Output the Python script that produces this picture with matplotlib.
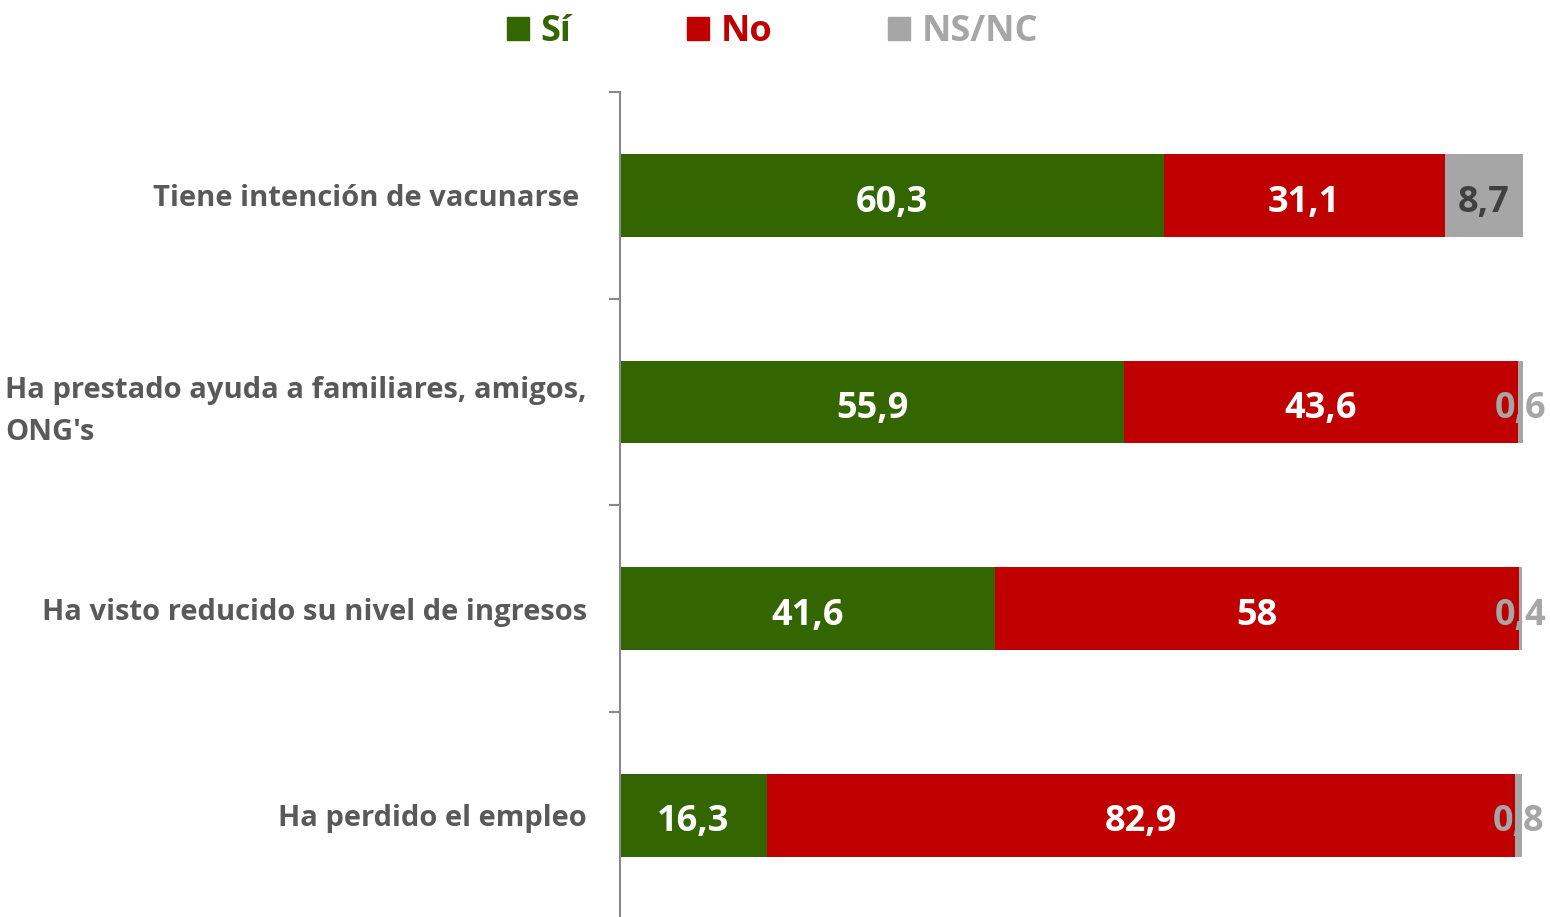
import matplotlib
matplotlib.use("Agg")
import matplotlib.pyplot as plt
from matplotlib.patches import Patch
import numpy as np

plt.rcParams['font.family'] = ['Open Sans', 'DejaVu Sans']
plt.rcParams['font.weight'] = 'bold'

categories = [
    "Tiene intención de vacunarse ",
    "Ha prestado ayuda a familiares, amigos,\nONG's",
    "Ha visto reducido su nivel de ingresos",
    "Ha perdido el empleo",
]
si = [60.3, 55.9, 41.6, 16.3]
no = [31.1, 43.6, 58.0, 82.9]
nsnc = [8.7, 0.6, 0.4, 0.8]

series = [("Sí", si, "#336600"), ("No", no, "#C00000"), ("NS/NC", nsnc, "#A6A6A6")]
label_colors = {"Sí": "white", "No": "white"}

fig = plt.figure(figsize=(15.5, 9.17), dpi=100)
ax = fig.add_axes([0.4, -0.0017, 0.5826, 0.9014])

y = np.arange(len(categories))
left = np.zeros(len(categories))
handles = []
for name, vals, color in series:
    vals = np.array(vals)
    ax.barh(y, vals, left=left, height=0.4, color=color)
    # value labels centred in each segment
    for yi, l, v in zip(y, left, vals):
        if name in label_colors:
            tc = label_colors[name]
        else:
            tc = "#404040" if v > 3 else "#A6A6A6"
        ax.text(l + v / 2, yi + 0.035, f"{v:g}".replace(".", ","), ha="center", va="center",
                color=tc, fontsize=26, fontweight="bold")
    left += vals
    handles.append(Patch(color=color, label=name))

ax.set_xlim(0, 100.1)
ax.set_ylim(len(categories) - 0.5, -0.5)
ax.set_xticks([])
ax.set_yticks(y)
ax.set_yticklabels(categories, fontsize=21, color="#595959",
                   multialignment="left", linespacing=1.55)
# tick marks sit between the categories
ax.set_yticks(np.arange(len(categories) + 1) - 0.5, minor=True)
ax.tick_params(axis="y", which="major", length=0, pad=24)
ax.tick_params(axis="y", which="minor", length=8, width=1.5, color="#898989")
for s in ["top", "right", "bottom"]:
    ax.spines[s].set_visible(False)
ax.spines["left"].set_color("#898989")
ax.spines["left"].set_linewidth(1.5)

leg = fig.legend(handles=handles, loc="upper center", bbox_to_anchor=(0.4984, 1.020), ncol=3,
                 frameon=False, fontsize=26, handlelength=0.6, handleheight=0.6,
                 handletextpad=0.33, columnspacing=3.2)
for txt, (_, _, color) in zip(leg.get_texts(), series):
    txt.set_color(color)

fig.savefig("out.png", dpi=100)
